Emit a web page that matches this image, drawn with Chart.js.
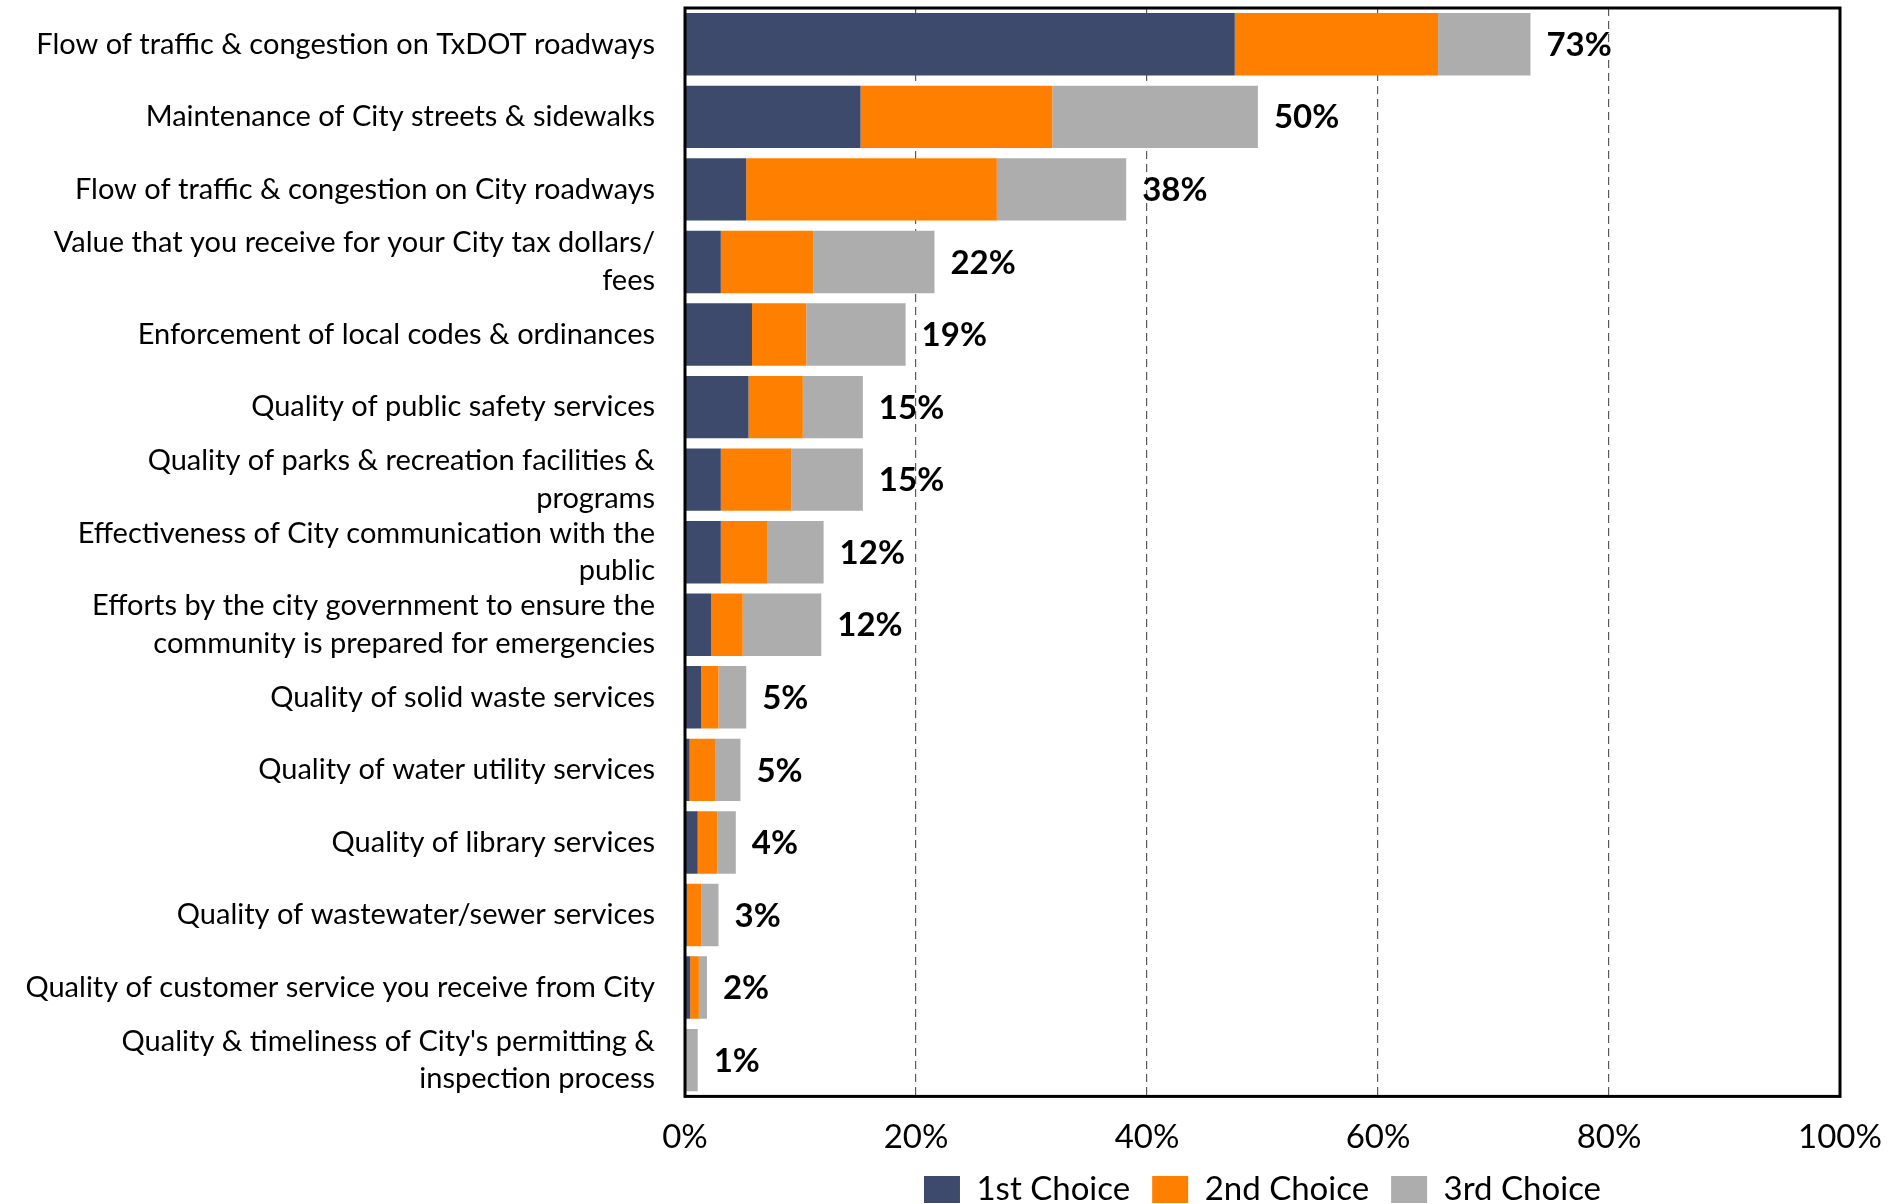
<!DOCTYPE html>
<html>
<head>
<meta charset="utf-8">
<script src="https://cdn.jsdelivr.net/npm/chart.js@4.4.0/dist/chart.umd.min.js"></script>
<style>
  html, body { margin: 0; padding: 0; background: #fff; }
</style>
</head>
<body>
<canvas id="choices" width="1902" height="1204"></canvas>
<script>
const categories = [
    'Flow of traffic & congestion on TxDOT roadways',
    'Maintenance of City streets & sidewalks',
    'Flow of traffic & congestion on City roadways',
    ['Value that you receive for your City tax dollars/', 'fees'],
    'Enforcement of local codes & ordinances',
    'Quality of public safety services',
    ['Quality of parks & recreation facilities &', 'programs'],
    ['Effectiveness of City communication with the', 'public'],
    ['Efforts by the city government to ensure the', 'community is prepared for emergencies'],
    'Quality of solid waste services',
    'Quality of water utility services',
    'Quality of library services',
    'Quality of wastewater/sewer services',
    'Quality of customer service you receive from City',
    ["Quality & timeliness of City's permitting &", 'inspection process']
];
const firstChoice  = [47.6, 15.2, 5.3, 3.1, 5.8, 5.5, 3.1, 3.1, 2.25, 1.4, 0.4, 1.1, 0.15, 0.45, 0.1];
const secondChoice = [17.6, 16.6, 21.7, 8.0, 4.7, 4.7, 6.1, 4.0, 2.75, 1.5, 2.2, 1.7, 1.25, 0.75, 0.0];
const thirdChoice  = [8.0, 17.8, 11.2, 10.5, 8.6, 5.2, 6.2, 4.9, 6.8, 2.4, 2.2, 1.6, 1.5, 0.7, 1.0];
const totalLabels  = [73, 50, 38, 22, 19, 15, 15, 12, 12, 5, 5, 4, 3, 2, 1];
const xTicks = [0, 20, 40, 60, 80, 100];

const FONT = 'Lato, "Open Sans", sans-serif';

// black frame round the plot area
const frame = {
    id: 'frame',
    afterDraw(chart) {
        const a = chart.chartArea, ctx = chart.ctx;
        ctx.save();
        ctx.strokeStyle = '#000';
        ctx.lineWidth = 3;
        ctx.strokeRect(a.left, a.top, a.right - a.left, a.bottom - a.top);
        ctx.restore();
    }
};

// total % at the end of each stacked bar
const totals = {
    id: 'totals',
    afterDatasetsDraw(chart) {
        const meta = chart.getDatasetMeta(2), ctx = chart.ctx;
        ctx.save();
        ctx.font = 'bold 33px ' + FONT;
        ctx.fillStyle = '#000';
        ctx.textAlign = 'left';
        ctx.textBaseline = 'middle';
        meta.data.forEach((bar, i) => {
            ctx.fillText(totalLabels[i] + '%', bar.x + 16, bar.y + 1);
        });
        ctx.restore();
    }
};

new Chart(document.getElementById('choices'), {
    type: 'bar',
    data: {
        labels: categories,
        datasets: [
            { label: '1st Choice', data: firstChoice, backgroundColor: '#3d4a6b' },
            { label: '2nd Choice', data: secondChoice, backgroundColor: '#ff8000' },
            { label: '3rd Choice', data: thirdChoice, backgroundColor: '#adadad' }
        ]
    },
    options: {
        indexAxis: 'y',
        responsive: false,
        animation: false,
        layout: { padding: { top: 8, right: 62, bottom: -12, left: 0 } },
        datasets: { bar: { categoryPercentage: 1, barPercentage: 0.86, borderWidth: 0 } },
        scales: {
            x: {
                stacked: true,
                min: 0, max: 100,
                afterBuildTicks: s => { s.ticks = xTicks.map(v => ({ value: v })); },
                afterFit: s => { s.paddingLeft = 0; s.paddingRight = 0; s.height -= 27; },
                ticks: { callback: v => v + '%', color: '#000', font: { family: FONT, size: 33 }, padding: 21, maxRotation: 0 },
                grid: {
                    drawTicks: false,
                    color: c => (c.tick && (c.tick.value === 0 || c.tick.value === 100)) ? 'rgba(0,0,0,0)' : '#5a5a5a',
                    lineWidth: 1.2
                },
                border: { display: false, dash: [8, 5] }
            },
            y: {
                stacked: true,
                afterFit: s => { s.width = 685; s.paddingTop = 0; s.paddingBottom = 0; },
                ticks: { autoSkip: false, color: '#000', font: { family: FONT, size: 29, lineHeight: 1.3 }, padding: 30 },
                grid: { display: false, drawTicks: false },
                border: { display: false }
            }
        },
        plugins: {
            legend: {
                position: 'bottom',
                fullSize: false,
                labels: {
                    boxWidth: 36, boxHeight: 27, padding: 22,
                    color: '#000',
                    font: { family: FONT, size: 33 }
                }
            },
            tooltip: { enabled: false }
        }
    },
    plugins: [frame, totals]
});
</script>
</body>
</html>
